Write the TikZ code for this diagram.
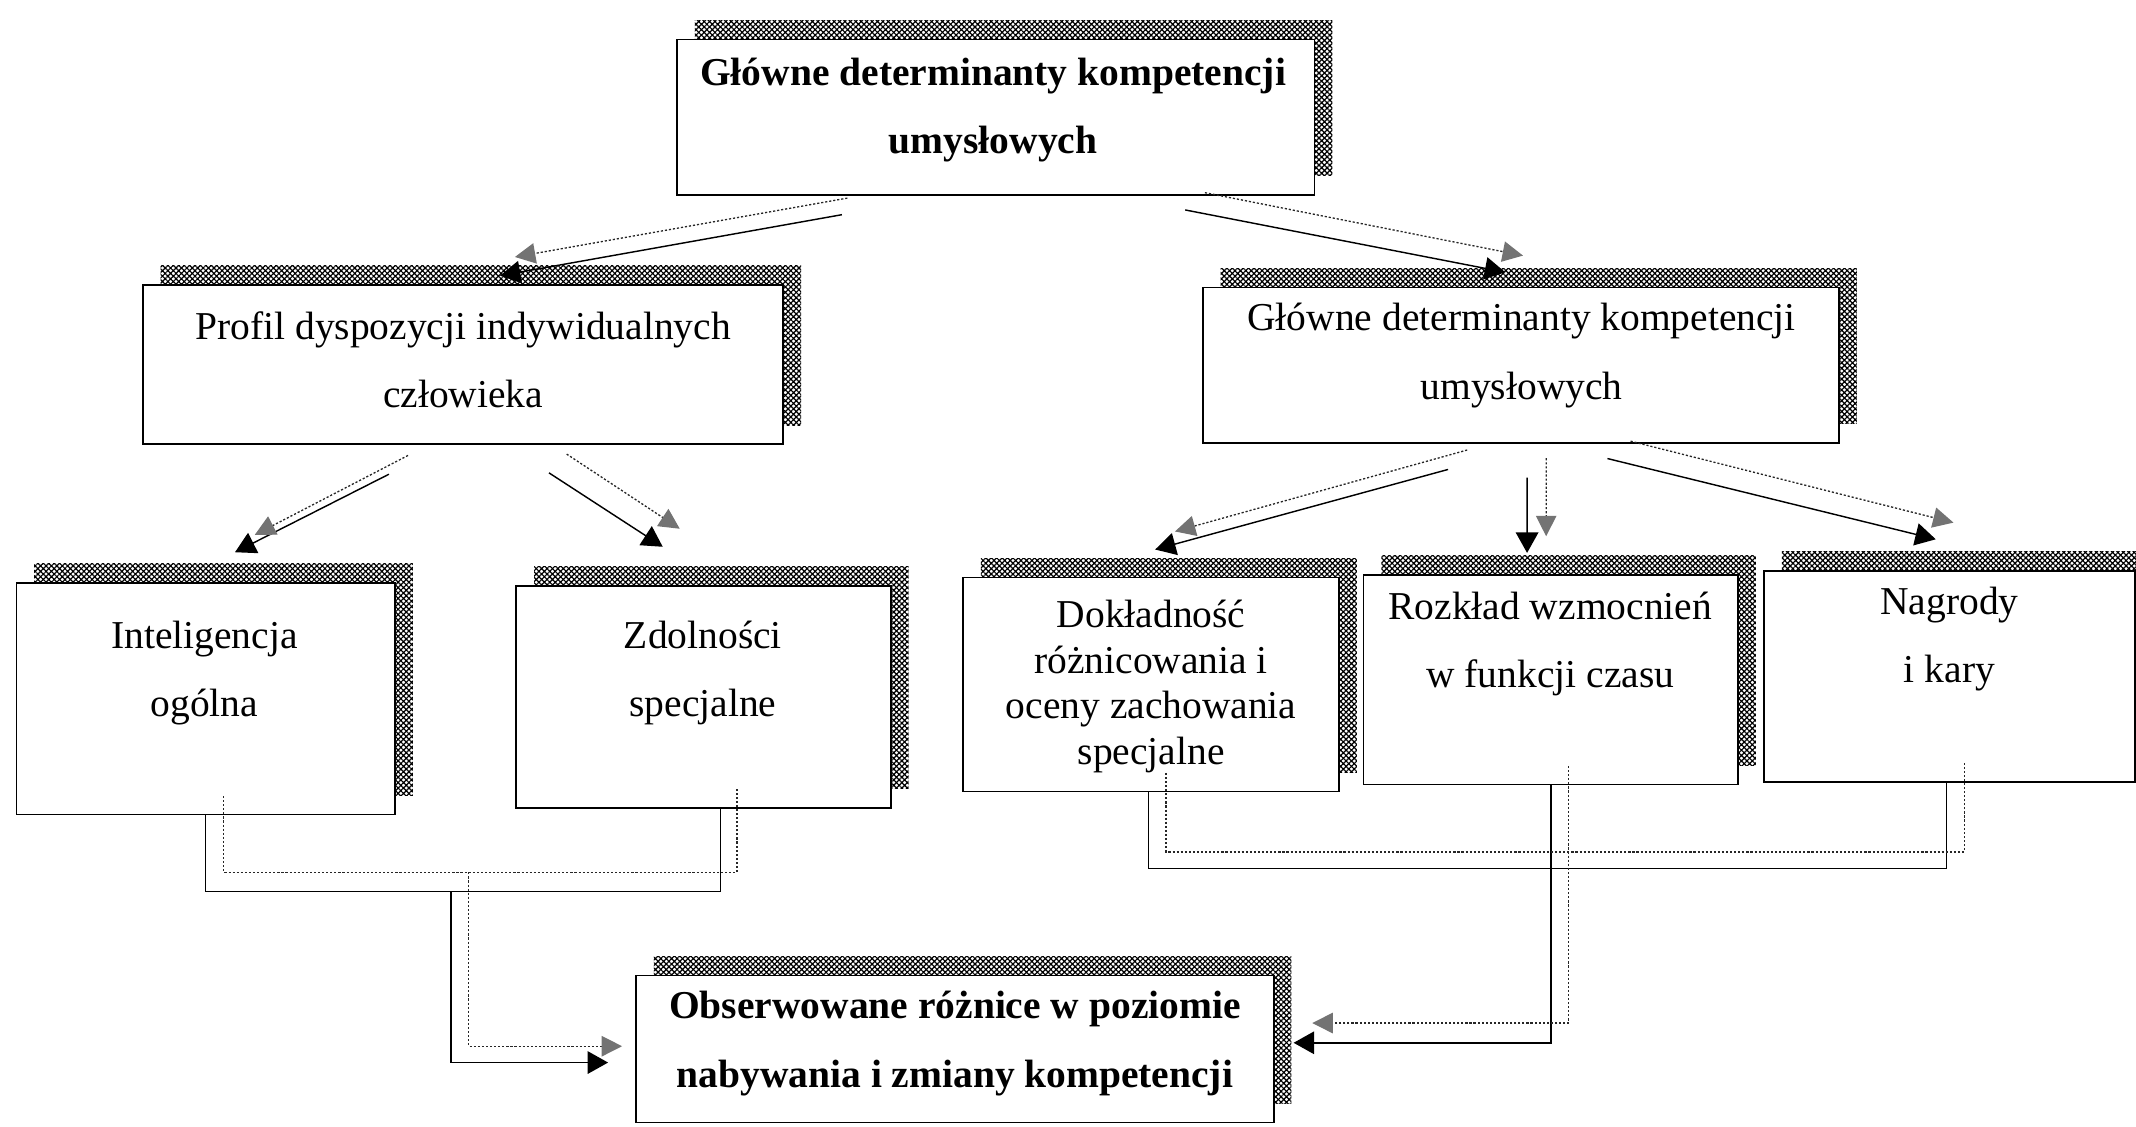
\documentclass[tikz,border=0pt]{standalone}
\usepackage{fontspec}
\setmainfont{Liberation Serif}
\usetikzlibrary{arrows.meta,fit,calc,patterns.meta}
\tikzset{
  box/.style={draw=black, line width=0.7pt, fill=white, inner sep=0pt},
  shd/.style={pattern={Hatch[angle=45,distance=1.6pt,line width=0.5pt]}, inner sep=0pt},
  txt/.style={align=center, inner sep=0pt, font=\fontsize{16.5}{28.5}\selectfont},
  txtb/.style={txt, font=\fontsize{16.5}{28.5}\selectfont\bfseries},
  Sl/.style={draw=black, line width=0.6pt},
  Dl/.style={draw=black!85, line width=0.55pt, dash pattern=on 0.9pt off 0.8pt},
  Sa/.style={Sl, -{Triangle[length=3mm,width=3.3mm]}},
  Da/.style={Dl, -{Triangle[length=3mm,width=3mm,color=black!55,fill=black!55]}}
}

\begin{document}
\begin{tikzpicture}[x=0.2mm, y=-0.2mm]
  \useasboundingbox (0,0) rectangle (1568,827);
  \node[shd, fit={(510,15)(978,129)}] (As) {};
  \node[box, fit={(497,29)(965,143)}] (A) {};
  \node[shd, fit={(118,195)(588,312)}] (Bs) {};
  \node[box, fit={(105,209)(575,326)}] (B) {};
  \node[shd, fit={(896,197)(1363,311)}] (Cs) {};
  \node[box, fit={(883,211)(1350,325)}] (C) {};
  \node[shd, fit={(25,414)(303,584)}] (Ds) {};
  \node[box, fit={(12,428)(290,598)}] (D) {};
  \node[shd, fit={(392,416)(667,579)}] (Es) {};
  \node[box, fit={(379,430)(654,593)}] (E) {};
  \node[shd, fit={(720,410)(996,567)}] (Fs) {};
  \node[box, fit={(707,424)(983,581)}] (F) {};
  \node[shd, fit={(1014,408)(1289,562)}] (Gs) {};
  \node[box, fit={(1001,422)(1276,576)}] (G) {};
  \node[shd, fit={(1308,405)(1580,560)}] (Hs) {};
  \node[box, fit={(1295,419)(1567,574)}] (H) {};
  \node[shd, fit={(480,702)(948,810)}] (Is) {};
  \node[box, fit={(467,716)(935,824)}] (I) {};

  \node[txtb] (At) at (729,81) {Główne determinanty kompetencji\\umysłowych};
  \node[txt] (Bt) at (340,264) {Profil dyspozycji indywidualnych\\człowieka};
  \node[txt] (Ct) at (1117,261) {Główne determinanty kompetencji\\umysłowych};
  \node[txt] (Dt) at (150,494) {Inteligencja\\ogólna};
  \node[txt] (Et) at (516,494) {Zdolności\\specjalne};
  \node[txt, font=\fontsize{16.5}{19}\selectfont] (Ft) at (845,504)
    {Dokładność\\różnicowania i\\oceny zachowania\\specjalne};
  \node[txt] (Gt) at (1138,473) {Rozkład wzmocnień\\w funkcji czasu};
  \node[txt] (Ht) at (1431,469) {Nagrody\\i kary};
  \node[txtb] (It) at (701,766) {Obserwowane różnice w poziomie\\nabywania i zmiany kompetencji};

  \draw[Sa] ($(A.south)+(-113,14)$) -- ($(B.north)+(27,-6)$);
  \draw[Da] ($(As.south)+(-122,16)$) -- ($(Bs.north)+(25,-6)$);
  \draw[Sa] ($(A.south)+(139,10.5)$) -- ($(C.north)+(-11.5,-10.5)$);
  \draw[Da] ($(As.south)+(140.5,12)$) -- ($(Cs.north)+(-11.5,-9)$);
  \draw[Sa] ($(B.south)+(-54.5,21.5)$) -- ($(D.north)+(21.5,-22)$);
  \draw[Da] ($(Bs.south)+(-53.5,22)$) -- ($(Ds.north)+(23,-21)$);
  \draw[Sa] ($(B.south)+(63,20.5)$) -- ($(E.north)+(-30,-28)$);
  \draw[Da] ($(Bs.south)+(63,21)$) -- ($(Es.north)+(-30.5,-27.5)$);
  \draw[Sa] ($(C.south)+(-53.5,19)$) -- ($(F.north)+(3,-20)$);
  \draw[Da] ($(Cs.south)+(-52.5,19)$) -- ($(Fs.north)+(4.5,-19.5)$);
  \draw[Sa] ($(C.south)+(4.5,25)$) -- ($(G.north)+(-17.5,-15.5)$);
  \draw[Da] ($(Cs.south)+(5.5,25)$) -- ($(Gs.north)+(-16.5,-14)$);
  \draw[Sa] ($(C.south)+(63.5,11)$) -- ($(H.north)+(-10,-22.5)$);
  \draw[Da] ($(Cs.south)+(67.5,12.5)$) -- ($(Hs.north)+(-10,-21)$);

  \draw[Sl] (D.south) -- ++(0,56) -| ($(E.south)+(12.5,0)$);
  \draw[Sa] ($(D.south)+(180,56)$) |- ($(I.west)+(-20,10)$);
  \draw[Dl] (Ds.south) -- ++(0,56) -| ($(Es.south)+(11.5,0)$);
  \draw[Da] ($(Ds.south)+(180,56)$) |- ($(Is.west)+(-23,12)$);
  \draw[Sl] ($(F.south)+(-2,0)$) -- ++(0,56) -| ($(H.south)+(-2,0)$);
  \draw[Sa] (G.south) |- ($(I.east)+(14,-4.5)$);
  \draw[Dl] ($(Fs.south)+(-2,0)$) -- ++(0,58) -| ($(Hs.south)+(-2,0)$);
  \draw[Da] (Gs.south) |- ($(Is.east)+(15,-5)$);
\end{tikzpicture}
\end{document}
